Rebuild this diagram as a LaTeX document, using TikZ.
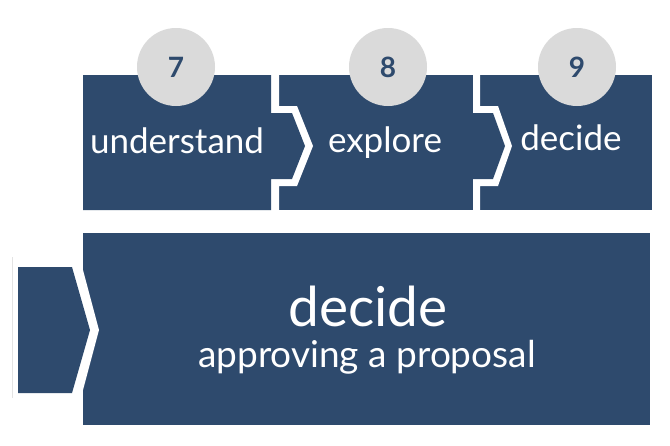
\documentclass[tikz,border=0pt]{standalone}
\usepackage{fontspec}
\setmainfont{Lato}
\definecolor{navy}{HTML}{2E4A6D}
\definecolor{disc}{HTML}{DADADA}
\begin{document}
\begin{tikzpicture}[x=1pt,y=-1pt,
  box/.style={fill=navy},
  gap/.style={fill=white},
  lbl/.style={text=white, inner sep=0pt, anchor=base},
  num/.style={circle, fill=disc, minimum size=78pt, inner sep=0pt, text=navy,
              font=\fontsize{28}{30}\selectfont\bfseries}]
\fill[white] (0,0) rectangle (670,445);
\useasboundingbox (0,0) rectangle (670,445);
% top row
\fill[box] (279,75) rectangle (473,210);
\fill[box] (480,75) rectangle (652,210);
\fill[gap] (271,75) -- (279,75) -- (279,106) -- (297,106) -- (313,146) -- (297,186) -- (279,186) -- (279,210) -- (271,210) -- cycle;
\fill[box] (83,75) -- (271,75) -- (271,113) -- (292,113) -- (305,146) -- (292,179) -- (271,179) -- (271,210) -- (83,210) -- cycle;
\fill[gap] (473,75) -- (480,75) -- (480,106) -- (498,106) -- (512,146) -- (498,186) -- (480,186) -- (480,210) -- (473,210) -- cycle;
\fill[box] (473,113) -- (493,113) -- (505,146) -- (493,179) -- (473,179) -- cycle;
% bottom row
\fill[box] (83,233) rectangle (650,425);
\fill[gap] (68,255) -- (79,255) -- (99,330) -- (79,405) -- (68,405) -- cycle;
\fill[box] (18,267) -- (72,267) -- (90,330) -- (72,393) -- (18,393) -- cycle;
\draw[gray!22, line width=0.8pt] (12,257) -- (12,398);
% circles
\node[num] (c7) at (176,67) {7};
\node[num] (c8) at (388,67) {8};
\node[num] (c9) at (577,67) {9};
% labels
\node[lbl, font=\fontsize{35}{37}\selectfont] (t1) at (177,153) {understand};
\node[lbl, font=\fontsize{35}{37}\selectfont] (t2) at (385,152) {explore};
\node[lbl, font=\fontsize{35}{37}\selectfont] (t3) at (571,150) {decide};
\node[lbl, font=\fontsize{55}{57}\selectfont] (bt) at (368,326) {decide};
\node[lbl, font=\fontsize{37}{39}\selectfont] (bs) at (367,367) {approving a proposal};
\end{tikzpicture}
\end{document}
